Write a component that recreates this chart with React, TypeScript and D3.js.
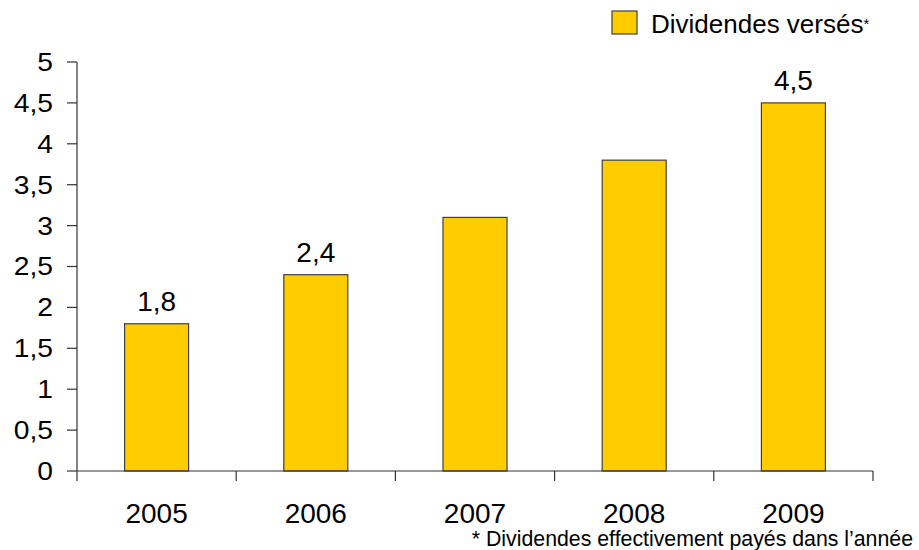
import React from "react";
import * as d3 from "d3";

const categories = ["2005", "2006", "2007", "2008", "2009"];
const values = [1.8, 2.4, 3.1, 3.8, 4.5];
const showLabel = [true, true, false, false, true];
const yTicks = [0, 0.5, 1, 1.5, 2, 2.5, 3, 3.5, 4, 4.5, 5];
const legendLabel = "Dividendes versés";
const footnote = "* Dividendes effectivement payés dans l’année";

const W = 919;
const H = 550;
const left = 77;
const right = 873;
const top = 62;
const bottom = 471;
const font = "Arial, 'Liberation Sans', sans-serif";
const fill = "#FFCC00";

export default function App() {
  const xb = d3.scaleBand().domain(categories).range([left, right]);
  const y = d3.scaleLinear().domain([0, 5]).range([bottom, top]);
  const fmt = (v: number) => String(v).replace(".", ",");
  const bw = 64;
  const tx = 53;
  return (
    <svg width={W} height={H} style={{ position: "absolute", left: 0, top: 0 }} fontFamily={font}>
      <rect x={0} y={0} width={W} height={H} fill="#fff" />
      {categories.map((c, i) => {
        const cx = (xb(c) as number) + xb.bandwidth() / 2;
        return (
          <g key={c}>
            <rect x={cx - bw / 2} y={y(values[i])} width={bw} height={bottom - y(values[i])} fill={fill} stroke="#404040" strokeWidth={1.2} />
            {showLabel[i] && (
              <text x={cx} y={y(values[i]) - 13} textAnchor="middle" fontSize={28} fill="#000">
                {fmt(values[i])}
              </text>
            )}
            <text x={cx} y={523} textAnchor="middle" fontSize={28} fill="#000">{c}</text>
          </g>
        );
      })}
      <line x1={left} x2={left} y1={top} y2={bottom} stroke="#333" strokeWidth={1.2} />
      {yTicks.map((t) => (
        <g key={t}>
          <line x1={left - 10} x2={left} y1={y(t)} y2={y(t)} stroke="#333" strokeWidth={1.2} />
          <text
            x={tx}
            y={y(t) + 9}
            textAnchor="end"
            fontSize={25}
            fill="#000"
            transform={`translate(${tx},0) scale(1.13,1) translate(${-tx},0)`}
          >
            {fmt(t)}
          </text>
        </g>
      ))}
      <line x1={left} x2={right} y1={bottom} y2={bottom} stroke="#333" strokeWidth={1.2} />
      {[...categories.map((c) => xb(c) as number), right].map((v, i) => (
        <line key={i} x1={v} x2={v} y1={bottom} y2={bottom + 10} stroke="#333" strokeWidth={1.2} />
      ))}
      <rect x={612} y={11} width={25} height={23} fill={fill} stroke="#404040" strokeWidth={1.2} />
      <text x={651} y={33} fontSize={26} fill="#000">
        {legendLabel}
        <tspan fontSize={15} dy={-4}>*</tspan>
      </text>
      <text x={913} y={546} textAnchor="end" fontSize={21.3} fill="#000">{footnote}</text>
    </svg>
  );
}
